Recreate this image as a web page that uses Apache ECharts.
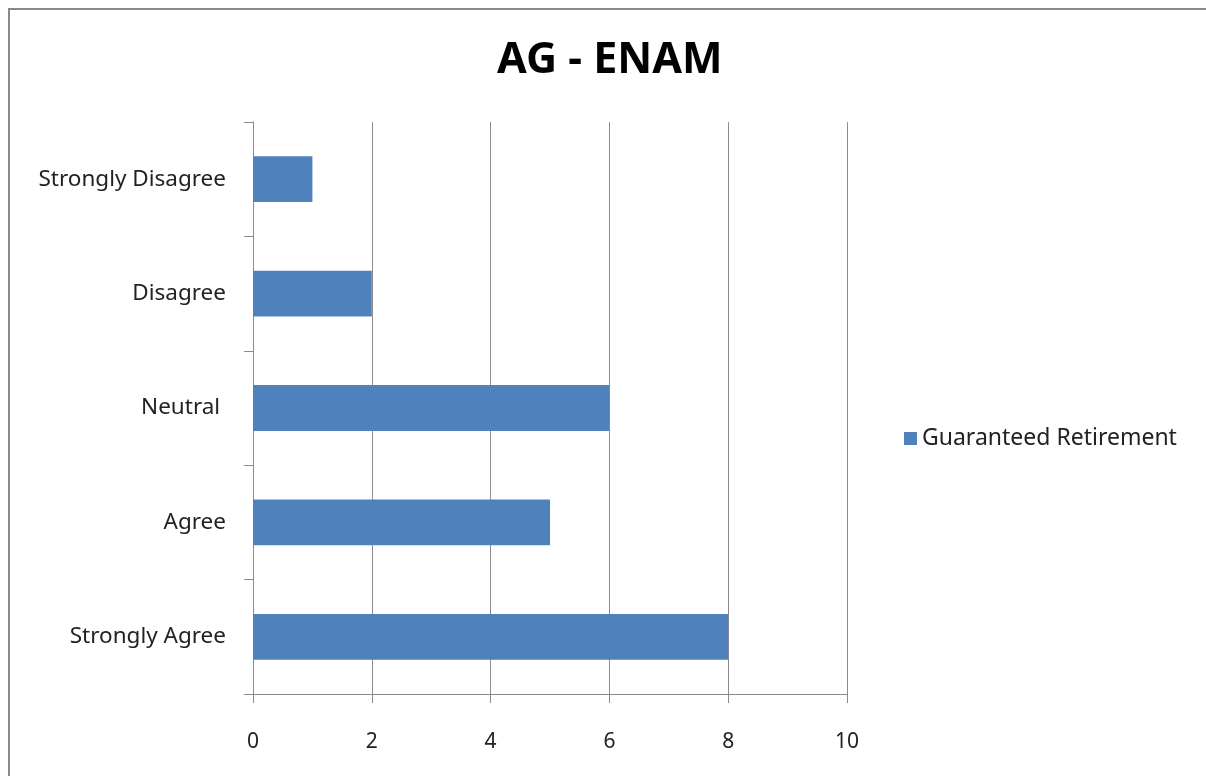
<!DOCTYPE html>
<html>
<head>
<meta charset="utf-8">
<script src="https://cdn.jsdelivr.net/npm/echarts@6/dist/echarts.min.js"></script>
<style>
  html, body { margin: 0; padding: 0; background: #fff; }
  #frame { position: absolute; left: 8px; top: 8px; width: 1220px; height: 800px;
           border: 2px solid #8a8a8a; box-sizing: border-box; }
  #chart { position: absolute; left: 0; top: 0; width: 1206px; height: 776px; }
</style>
</head>
<body>
<div id="frame"></div>
<div id="chart"></div>
<script>
// Survey responses, listed top to bottom
const categories = ['Strongly Disagree', 'Disagree', 'Neutral ', 'Agree', 'Strongly Agree'];
const guaranteedRetirement = [1, 2, 6, 5, 8];
const seriesName = 'Guaranteed Retirement';
const chartTitle = 'AG - ENAM';

const font = '"Noto Sans", "Open Sans", sans-serif';
const axisGray = '#8c8c8c';

const chart = echarts.init(document.getElementById('chart'), null, { renderer: 'canvas' });
chart.setOption({
  animation: false,
  backgroundColor: 'transparent',
  title: {
    text: chartTitle,
    left: 497,
    top: 39,
    padding: 0,
    textStyle: { fontFamily: font, fontSize: 43, fontWeight: 'bold', color: '#000' }
  },
  legend: {
    data: [seriesName],
    orient: 'vertical',
    left: 904,
    top: 427,
    padding: 0,
    itemWidth: 13,
    itemHeight: 13,
    itemGap: 8,
    icon: 'rect',
    textStyle: { fontFamily: font, fontSize: 23, color: '#222' }
  },
  grid: { left: 253, top: 122, right: 359, bottom: 82, containLabel: false },
  xAxis: {
    type: 'value',
    min: 0,
    max: 10,
    interval: 2,
    axisLine: { show: true, lineStyle: { color: axisGray, width: 1 } },
    axisTick: { show: true, length: 9, lineStyle: { color: axisGray } },
    axisLabel: { margin: 38, fontFamily: font, fontSize: 21, color: '#222' },
    splitLine: { show: true, lineStyle: { color: axisGray, width: 1 } }
  },
  yAxis: {
    type: 'category',
    data: categories,
    inverse: true,
    axisLine: { show: true, lineStyle: { color: axisGray, width: 1 } },
    axisTick: { show: true, length: 9, alignWithLabel: false, lineStyle: { color: axisGray } },
    axisLabel: { margin: 27, fontFamily: font, fontSize: 22.5, color: '#222' },
    splitLine: { show: false }
  },
  series: [{
    name: seriesName,
    type: 'bar',
    data: guaranteedRetirement,
    barCategoryGap: '60%',
    itemStyle: { color: '#4f81bd' }
  }]
});
</script>
</body>
</html>
